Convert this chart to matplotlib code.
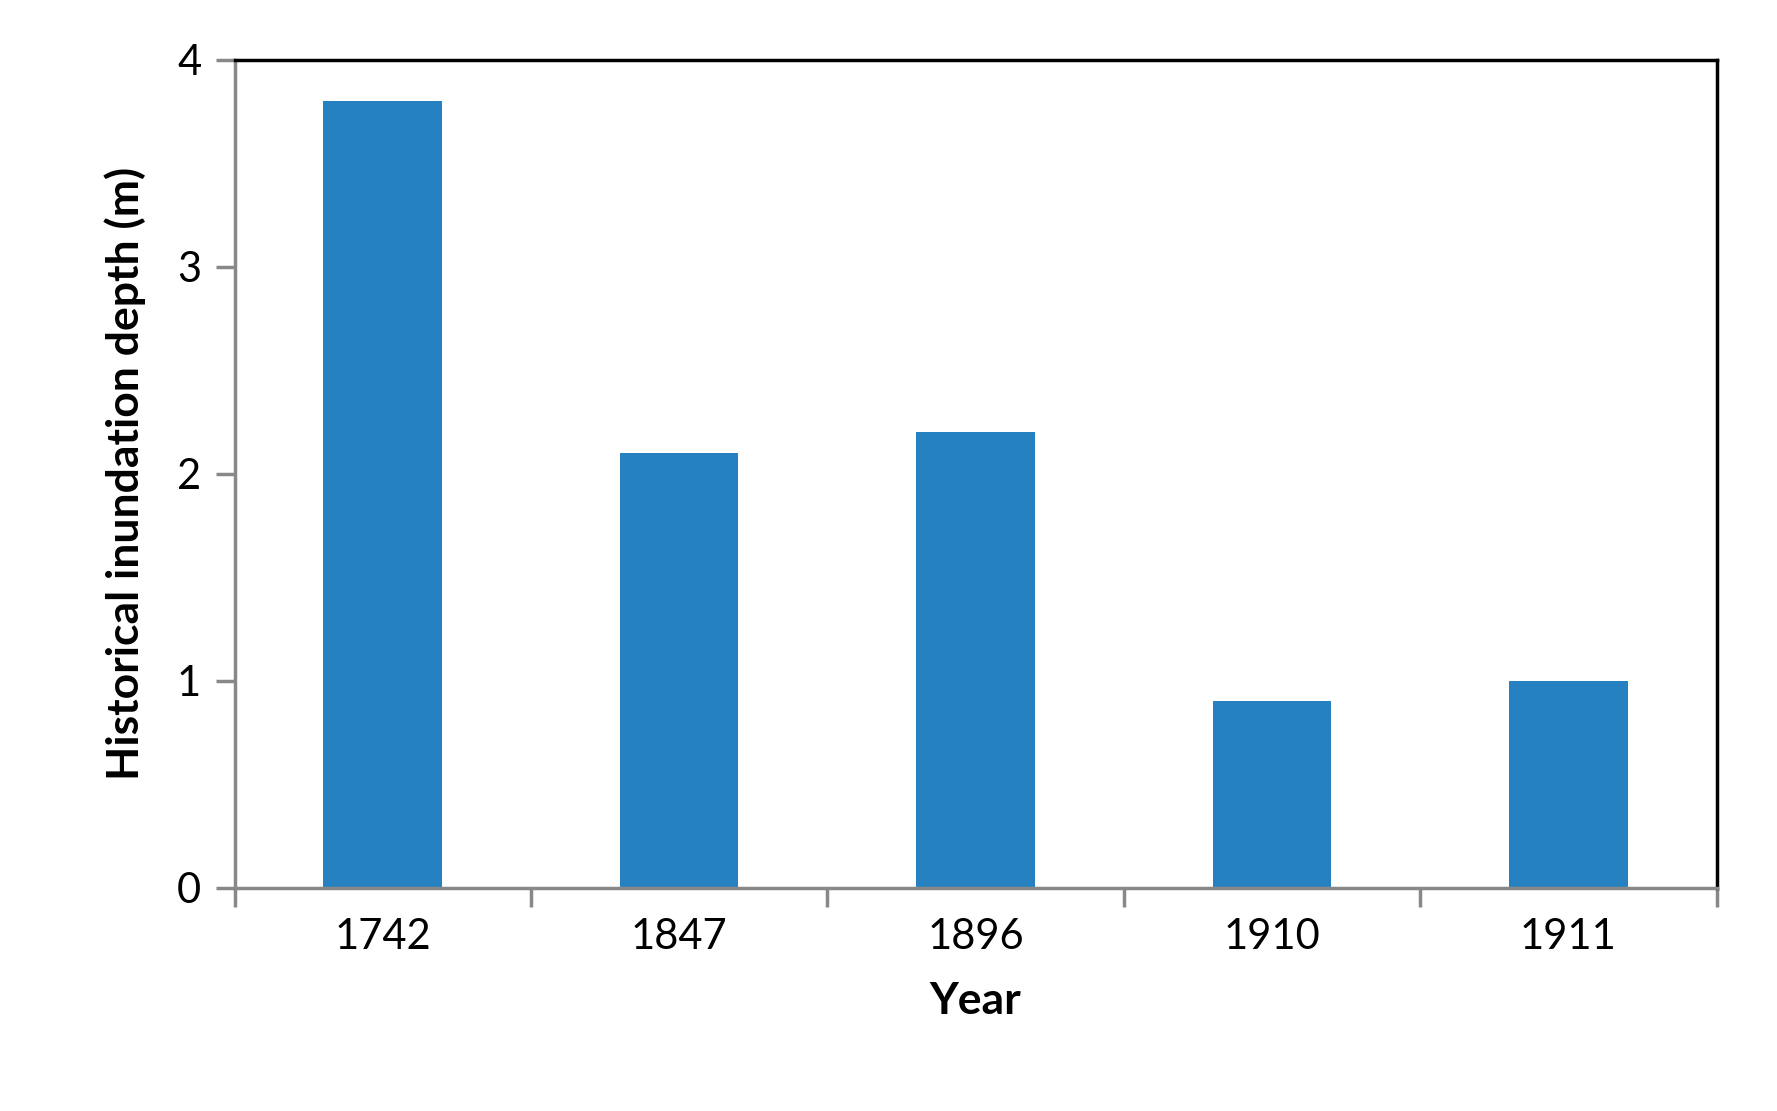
import matplotlib.pyplot as plt
import numpy as np

years = ["1742", "1847", "1896", "1910", "1911"]
depth = [3.8, 2.1, 2.2, 0.9, 1.0]

plt.rcParams["font.family"] = ["Lato", "DejaVu Sans"]

fig = plt.figure(figsize=(17.77, 11.11), dpi=100)
ax = fig.add_axes([0.132, 0.201, 0.834, 0.745])

x = np.arange(len(years))
ax.bar(x, depth, width=0.4, color="#2681C1")

ax.set_xlim(-0.5, len(years) - 0.5)
ax.set_ylim(0, 4)
ax.set_yticks([0, 1, 2, 3, 4])
ax.set_xticks(x)
ax.set_xticklabels(years)
ax.set_xticks(np.arange(-0.5, len(years)), minor=True)
ax.tick_params(axis="x", which="major", length=0, pad=22, labelsize=30)
ax.tick_params(axis="x", which="minor", length=14, width=2.5, color="#888888", direction="out")
ax.tick_params(axis="y", length=14, width=2.5, color="#888888", direction="out", labelsize=30, pad=10)

for side in ["left", "bottom"]:
    ax.spines[side].set_color("#888888")
    ax.spines[side].set_linewidth(2.5)
for side in ["top", "right"]:
    ax.spines[side].set_color("black")
    ax.spines[side].set_linewidth(2.5)

ax.set_xlabel("Year", fontsize=32, fontweight="bold", labelpad=18)
ax.set_ylabel("Historical inundation depth (m)", fontsize=32, fontweight="bold", labelpad=22)

fig.savefig("out.png", dpi=100)
